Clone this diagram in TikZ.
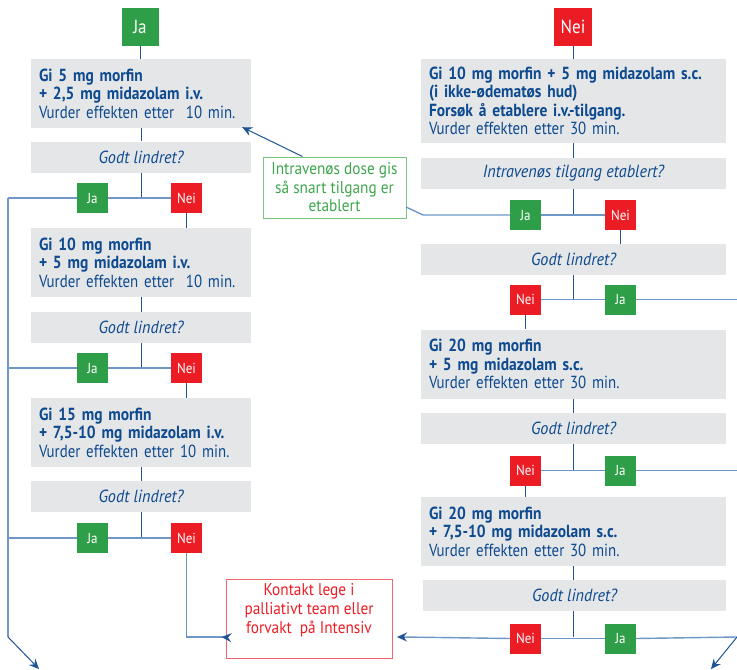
\documentclass[tikz,border=0pt]{standalone}
\usepackage{fontspec}
\setmainfont{PT Sans}[FakeStretch=0.85, BoldFeatures={FakeStretch=0.885}, ItalicFeatures={FakeStretch=0.925}]
\newfontfamily\labelfont{PT Sans}[FakeStretch=0.9]
\usetikzlibrary{arrows.meta}
\definecolor{navy}{HTML}{0D4A8F}
\definecolor{linedark}{HTML}{1E5396}
\definecolor{linelight}{HTML}{6E96C6}
\definecolor{greybox}{HTML}{E5E6E8}
\definecolor{jagreen}{HTML}{2E9E48}
\definecolor{neired}{HTML}{EC1C24}
\definecolor{ivgreen}{HTML}{3DA64B}
\definecolor{ivborder}{HTML}{7CC57F}
\definecolor{redborder}{HTML}{F0666A}
\tikzset{
  gbox/.style={fill=greybox, draw=none, inner xsep=8pt, inner ysep=0pt, align=left, text=navy,
    font=\fontsize{17.5}{18.5}\selectfont},
  leftbox/.style={gbox, text width=204pt, minimum height=69pt},
  rightbox/.style={gbox, text width=289pt},
  qbox/.style={fill=greybox, text=navy, inner sep=0pt, minimum height=31pt,
    font=\fontsize{17.5}{18}\selectfont\itshape},
  smallbox/.style={text=white, minimum width=31pt, minimum height=30pt, inner sep=0pt,
    font=\labelfont\fontsize{14.5}{16}\selectfont},
  jabox/.style={smallbox, fill=jagreen},
  neibox/.style={smallbox, fill=neired},
  vline/.style={draw=linedark, line width=1pt},
  hline/.style={draw=linelight, line width=1.4pt},
  tip/.style={-{Stealth[length=10pt,width=9pt,inset=3.5pt]}, draw=linedark, line width=1pt}
}
\begin{document}
\begin{tikzpicture}[x=1pt,y=-1pt]
\useasboundingbox (0,0) rectangle (737,670);
% ---------- left column ----------
\node[jabox, minimum width=37pt, minimum height=38pt, font=\labelfont\fontsize{19}{20}\selectfont] (topJa) at (140,27) {Ja};
\node[leftbox] (b1) at (141,93.5) {{\bfseries Gi 5 mg morfin\\+ 2,5 mg midazolam i.v.}\\Vurder effekten etter\ \ 10 min.};
\node[qbox, minimum width=220pt] (q1) at (141,157) {Godt lindret?};
\node[jabox] (ja1) at (92.5,198) {Ja};
\node[neibox] (nei1) at (186.5,198) {Nei};
\node[leftbox] (b2) at (141,262.5) {{\bfseries Gi 10 mg morfin\\+ 5 mg midazolam i.v.}\\Vurder effekten etter\ \ 10 min.};
\node[qbox, minimum width=220pt] (q2) at (141,327.5) {Godt lindret?};
\node[jabox] (ja2) at (92.5,368) {Ja};
\node[neibox] (nei2) at (186.5,368) {Nei};
\node[leftbox] (b3) at (141,432.5) {{\bfseries Gi 15 mg morfin\\+ 7,5-10 mg midazolam i.v.}\\Vurder effekten etter 10 min.};
\node[qbox, minimum width=220pt] (q3) at (141,496.5) {Godt lindret?};
\node[jabox] (ja3) at (92.5,538) {Ja};
\node[neibox] (nei3) at (186.5,538) {Nei};
% ---------- side boxes ----------
\node[draw=ivborder, line width=1pt, minimum width=143pt, minimum height=61pt, inner sep=0pt] (iv) at (334.5,187.5) {};
\node[text=ivgreen, align=center, font=\labelfont\fontsize{17}{18.5}\selectfont] (ivtext) at (iv.center) {Intravenøs dose gis\\så snart tilgang er\\etablert};
\node[draw=redborder, line width=1pt, minimum width=166pt, minimum height=79pt, inner sep=0pt] (red) at (309,618.5) {};
\node[text=neired, align=center, anchor=north, font=\labelfont\fontsize{17}{19}\selectfont] (redtext) at (309,580) {Kontakt lege i\\palliativt team eller\\forvakt\ \ på Intensiv};
% ---------- right column ----------
\node[neibox, minimum width=38pt, minimum height=38pt, font=\labelfont\fontsize{19}{20}\selectfont] (topNei) at (573,27) {Nei};
\node[rightbox, minimum height=84pt] (r1) at (573.5,101) {{\bfseries Gi 10 mg morfin + 5 mg midazolam s.c.\\(i ikke-ødematøs hud)\\Forsøk å etablere i.v.-tilgang.}\\Vurder effekten etter 30 min.};
\node[qbox, minimum width=305pt] (rq1) at (573.5,173.5) {Intravenøs tilgang etablert?};
\node[jabox] (rja1) at (525.5,215) {Ja};
\node[neibox] (rnei1) at (620.5,215) {Nei};
\node[qbox, minimum width=305pt] (rq2) at (573.5,259.5) {Godt lindret?};
\node[neibox] (rnei2) at (525.5,299.5) {Nei};
\node[jabox] (rja2) at (620.5,299.5) {Ja};
\node[rightbox, minimum height=69pt] (r2) at (573.5,364) {{\bfseries Gi 20 mg morfin\\+ 5 mg midazolam s.c.}\\Vurder effekten etter 30 min.};
\node[qbox, minimum width=305pt] (rq3) at (573.5,428.5) {Godt lindret?};
\node[neibox] (rnei3) at (525.5,470.5) {Nei};
\node[jabox] (rja3) at (620.5,470.5) {Ja};
\node[rightbox, minimum height=69pt] (r3) at (573.5,531.5) {{\bfseries Gi 20 mg morfin\\+ 7,5-10 mg midazolam s.c.}\\Vurder effekten etter 30 min.};
\node[qbox, minimum width=303pt] (rq4) at (574.5,595.5) {Godt lindret?};
\node[neibox] (rnei4) at (525.5,638.5) {Nei};
\node[jabox] (rja4) at (620.5,638.5) {Ja};
% ---------- coordinates ----------
\coordinate (L1) at (8,198);
\coordinate (L2) at (8,368);
\coordinate (L3) at (8,538);
\coordinate (Lb) at (8,637);
\coordinate (Lend) at (39,669);
\coordinate (redL) at (222,637);
\coordinate (redR) at (397,637);
\coordinate (ivR) at (406,207);
\coordinate (ivK) at (423,215);
\coordinate (R2) at (737,299.5);
\coordinate (R3) at (737,470.5);
\coordinate (R4) at (737,637);
\coordinate (Rend) at (711,669);
% ---------- left connectors ----------
\draw[vline] (topJa.south) -- (topJa.south |- b1.north);
\draw[vline] (b1.south) -- (q1.north);
\draw[vline] (q1.south) -- (q1.south |- ja1.center);
\draw[hline] (ja1.east) -- (nei1.west);
\draw[hline] (ja1.west) -- (L1);
\draw[vline] (nei1.south) -- (nei1.south |- b2.north);
\draw[vline] (b2.south) -- (q2.north);
\draw[vline] (q2.south) -- (q2.south |- ja2.center);
\draw[hline] (ja2.east) -- (nei2.west);
\draw[hline] (ja2.west) -- (L2);
\draw[vline] (nei2.south) -- (nei2.south |- b3.north);
\draw[vline] (b3.south) -- (q3.north);
\draw[vline] (q3.south) -- (q3.south |- ja3.center);
\draw[hline] (ja3.east) -- (nei3.west);
\draw[hline] (ja3.west) -- (L3);
\draw[hline] (L1) -- (Lb);
\draw[tip] (Lb) -- (Lend);
\draw[hline] (nei3.south) |- (redL);
\draw[tip] ([yshift=-0.1pt]redL) -- ++(1,0) -- ([xshift=-4pt]red.west |- redL);
% ---------- side connectors ----------
\draw[tip] ([xshift=40pt]iv.north west) -- ([xshift=-9pt,yshift=1pt]b1.south east);
% ---------- right connectors ----------
\draw[vline] (topNei.south) -- (topNei.south |- r1.north);
\draw[vline] (r1.south) -- (rq1.north);
\draw[vline] (rq1.south) -- (rq1.south |- rja1.center);
\draw[hline] (rja1.east) -- (rnei1.west);
\draw[hline] (rja1.west) -- (ivK) -- (ivR);
\draw[vline] (rnei1.south) -- (rnei1.south |- rq2.north);
\draw[vline] (rq2.south) -- (rq2.south |- rnei2.center);
\draw[hline] (rnei2.east) -- (rja2.west);
\draw[hline] (rja2.east) -- (R2);
\draw[vline] (rnei2.south) -- (rnei2.south |- r2.north);
\draw[vline] (r2.south) -- (rq3.north);
\draw[vline] (rq3.south) -- (rq3.south |- rnei3.center);
\draw[hline] (rnei3.east) -- (rja3.west);
\draw[hline] (rja3.east) -- (R3);
\draw[vline] (rnei3.south) -- (rnei3.south |- r3.north);
\draw[vline] (r3.south) -- (r3.south |- rq4.north);
\draw[vline] (rq4.south -| r3.south) -- (r3.south |- redR);
\draw[hline] (rnei4.east) -- (rja4.west);
\draw[hline] (rja4.east) -- (R4);
\draw[tip] (R4) -- (Rend);
\draw[hline] (rnei4.west) -- ([xshift=6pt]redR);
\draw[tip] ([xshift=8pt]redR) -- (redR);
\end{tikzpicture}
\end{document}
